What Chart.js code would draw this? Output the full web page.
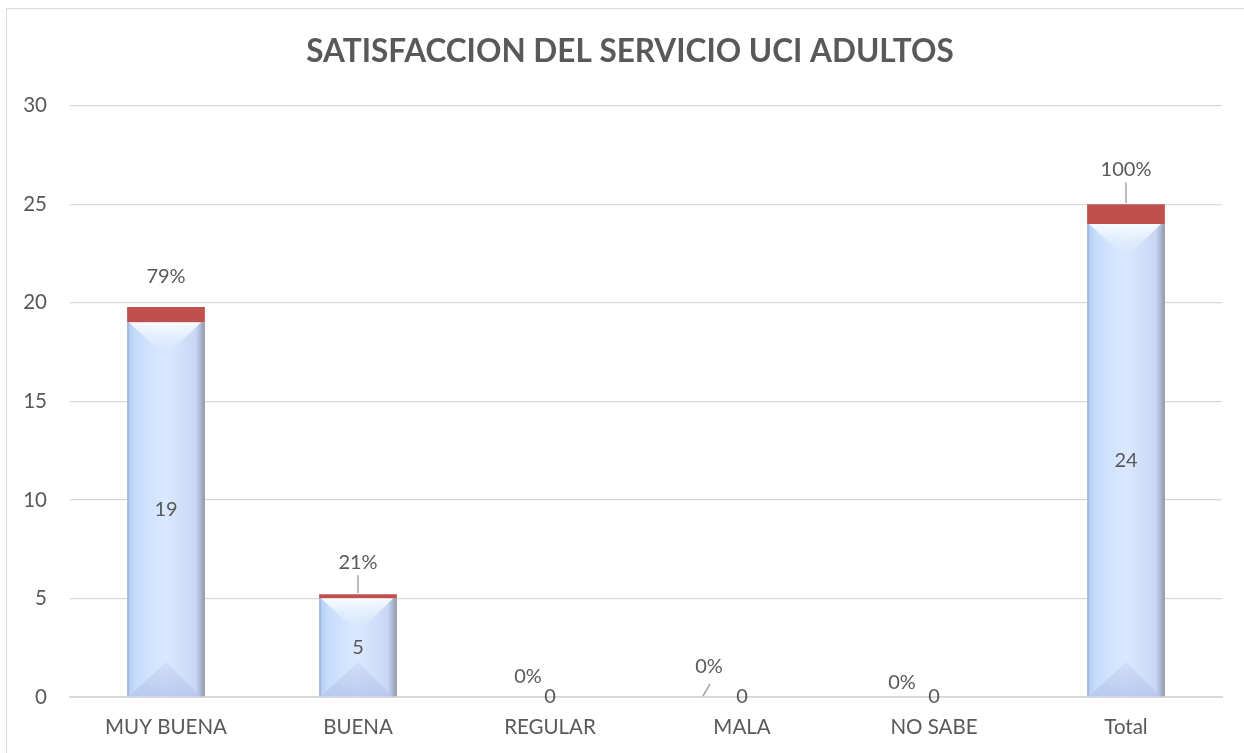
<!DOCTYPE html>
<html>
<head>
<meta charset="utf-8">
<script src="https://cdn.jsdelivr.net/npm/chart.js@4.4.1/dist/chart.umd.min.js"></script>
<style>
  html, body { margin: 0; padding: 0; background: #ffffff; }
  #wrap { position: relative; width: 1244px; height: 753px; }
  #frame { position: absolute; left: 6px; top: 8px; width: 1250px; height: 760px; border: 1px solid #d9d9d9; box-sizing: border-box; }
  canvas { position: absolute; left: 0; top: 0; }
</style>
</head>
<body>
<div id="wrap">
  <div id="frame"></div>
  <canvas id="c" width="1244" height="753"></canvas>
</div>
<script>
const categories = ["MUY BUENA", "BUENA", "REGULAR", "MALA", "NO SABE", "Total"];
const counts = [19, 5, 0, 0, 0, 24];
const shares = [0.79, 0.21, 0, 0, 0, 1];
const shareLabels = ["79%", "21%", "0%", "0%", "0%", "100%"];
const yTicks = [0, 5, 10, 15, 20, 25, 30];
const titleText = "SATISFACCION DEL SERVICIO UCI ADULTOS";

const FONT = "Lato, 'Open Sans', 'DejaVu Sans', sans-serif";
const TXT = "#595959";

// label placement tweaks (style only)
const pctPlacement = [
  { dx: 0, dy: -30, leader: false },
  { dx: 0, dy: -32, leader: true },
  { dx: -22, dy: -20, leader: false },
  { dx: -33, dy: -30, leader: "slant" },
  { dx: -32, dy: -14, leader: false },
  { dx: 0, dy: -35, leader: true }
];

const titleShift = {
  id: 'titleShift',
  afterLayout(chart) {
    if (chart.titleBlock) { chart.titleBlock.left += 8; chart.titleBlock.right += 8; }
  }
};

const barStyler = {
  id: 'barStyler',
  afterDatasetDraw(chart, args) {
    if (args.index !== 0) return;
    const ctx = chart.ctx;
    const meta = chart.getDatasetMeta(0);
    meta.data.forEach((el) => {
      const h = el.base - el.y;
      if (h < 1) return;
      const w = el.width;
      const x0 = el.x - w / 2, x1 = el.x + w / 2;
      const top = el.y, bot = el.base;
      ctx.save();
      const g = ctx.createLinearGradient(x0, 0, x1, 0);
      g.addColorStop(0, '#b3cdf3');
      g.addColorStop(0.12, '#c8ddfb');
      g.addColorStop(0.5, '#dae9ff');
      g.addColorStop(0.88, '#c9d7f5');
      g.addColorStop(0.95, '#aab6cd');
      g.addColorStop(1, '#8b95a8');
      ctx.fillStyle = g;
      ctx.fillRect(x0, top, w, h);
      const depth = Math.min(w / 2 * 0.88, h / 2);
      const tg = ctx.createLinearGradient(0, top, 0, top + depth);
      tg.addColorStop(0, 'rgba(250,253,255,0.95)');
      tg.addColorStop(1, 'rgba(205,225,252,0.55)');
      ctx.fillStyle = tg;
      ctx.beginPath();
      ctx.moveTo(x0 + 2, top);
      ctx.lineTo(x1 - 4, top);
      ctx.lineTo(el.x, top + depth);
      ctx.closePath();
      ctx.fill();
      const bg = ctx.createLinearGradient(0, bot - depth, 0, bot);
      bg.addColorStop(0, 'rgba(195,210,240,0.5)');
      bg.addColorStop(1, 'rgba(180,198,236,0.85)');
      ctx.fillStyle = bg;
      ctx.beginPath();
      ctx.moveTo(x0 + 2, bot);
      ctx.lineTo(x1 - 4, bot);
      ctx.lineTo(el.x, bot - depth);
      ctx.closePath();
      ctx.fill();
      ctx.fillStyle = 'rgba(140,160,200,0.45)';
      ctx.fillRect(x0, top, 2, h);
      ctx.restore();
    });
  }
};

const labeler = {
  id: 'labeler',
  afterDatasetsDraw(chart) {
    const ctx = chart.ctx;
    const m0 = chart.getDatasetMeta(0);
    const m1 = chart.getDatasetMeta(1);
    ctx.save();
    ctx.font = "20px " + FONT;
    ctx.fillStyle = TXT;
    ctx.textAlign = 'center';
    ctx.textBaseline = 'middle';
    m0.data.forEach((el, i) => {
      const y = counts[i] > 0 ? (el.y + el.base) / 2 : el.base;
      ctx.fillText(String(counts[i]), el.x, y);
    });
    m1.data.forEach((el, i) => {
      const p = pctPlacement[i];
      const lx = el.x + p.dx, ly = el.y + p.dy;
      ctx.fillStyle = TXT;
      ctx.fillText(shareLabels[i], lx, ly);
      ctx.strokeStyle = '#a6a6a6';
      ctx.lineWidth = 1.5;
      if (p.leader === true) {
        ctx.beginPath();
        ctx.moveTo(el.x, ly + 13);
        ctx.lineTo(el.x, el.y - 1);
        ctx.stroke();
      } else if (p.leader === 'slant') {
        ctx.beginPath();
        ctx.moveTo(lx + 1, ly + 17);
        ctx.lineTo(lx - 6, ly + 29);
        ctx.stroke();
      }
    });
    ctx.restore();
  }
};

new Chart(document.getElementById('c'), {
  type: 'bar',
  data: {
    labels: categories,
    datasets: [
      { label: 'Cantidad', data: counts, backgroundColor: 'rgba(0,0,0,0)', borderWidth: 0,
        barPercentage: 0.81, categoryPercentage: 0.5 },
      { label: 'Porcentaje', data: shares, backgroundColor: '#c0504d', borderWidth: 0,
        barPercentage: 0.81, categoryPercentage: 0.5 }
    ]
  },
  options: {
    responsive: false,
    animation: false,
    layout: { padding: { left: 22, right: 22, top: 0, bottom: 11 } },
    plugins: {
      legend: { display: false },
      tooltip: { enabled: false },
      title: {
        display: true, text: titleText, color: TXT,
        font: { family: FONT, size: 31.5, weight: 'bold' },
        padding: { top: 33, bottom: 35 }
      }
    },
    scales: {
      x: {
        stacked: true,
        grid: { display: false, drawTicks: false },
        border: { display: true, color: '#d9d9d9', width: 2 },
        ticks: { color: TXT, font: { family: FONT, size: 20.5 }, padding: 18 },
        afterFit(axis) { axis.height = 45; axis.paddingLeft = 0; axis.paddingRight = 0; }
      },
      y: {
        stacked: true, min: 0, max: 30,
        afterBuildTicks(axis) { axis.ticks = yTicks.map(v => ({ value: v })); },
        grid: { color: '#d9d9d9', lineWidth: 1.3, drawTicks: false },
        border: { display: false },
        ticks: { color: TXT, font: { family: FONT, size: 20.5 }, padding: 23 },
        afterFit(axis) { axis.width = 48; axis.paddingTop = 0; axis.paddingBottom = 0; }
      }
    }
  },
  plugins: [titleShift, barStyler, labeler]
});
</script>
</body>
</html>
